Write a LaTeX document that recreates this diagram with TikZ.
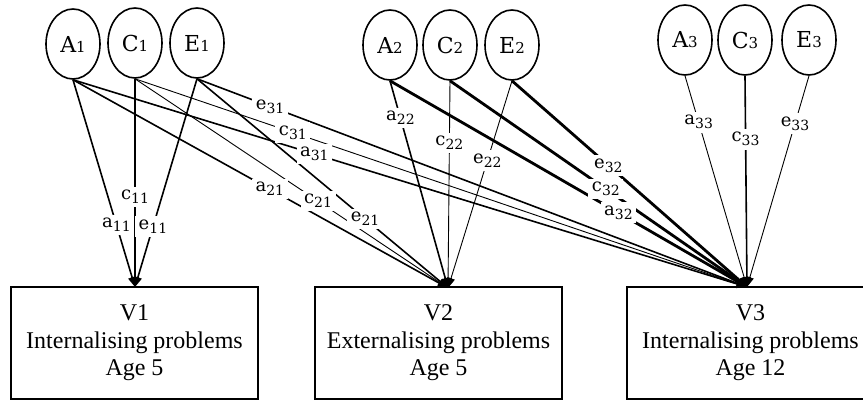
\documentclass[tikz,border=0pt]{standalone}
\usepackage{fontspec}
\setmainfont{Liberation Serif}
\newfontfamily\labfont{DejaVu Serif}
\usetikzlibrary{shapes.geometric,arrows.meta}

% factor name with its time index, and a path coefficient
\newcommand{\fac}[2]{#1{\fontsize{15}{15}\selectfont #2}}
\newcommand{\coef}[2]{#1\raisebox{-4pt}{\fontsize{14}{14}\selectfont #2}}

\tikzset{
  latent/.style={draw, ellipse, line width=1.6pt, minimum width=54pt, minimum height=70pt,
    inner sep=0pt, font=\labfont\fontsize{22}{22}\selectfont},
  measure/.style={draw, rectangle, line width=1.4pt, minimum width=247pt, minimum height=112pt,
    align=center, font=\fontsize{24}{27.5}\selectfont},
  lthin/.style={line width=0.9pt, -{Triangle[length=10pt,width=8pt]}},
  lnorm/.style={line width=1.6pt, -{Triangle[length=10pt,width=8pt]}},
  lthick/.style={line width=2.8pt, -{Triangle[length=10pt,width=8pt]}},
  coef/.style={fill=white, inner sep=3.5pt, font=\labfont\fontsize{18}{18}\selectfont}
}

\begin{document}
\begin{tikzpicture}[x=1pt,y=-1pt]
  \useasboundingbox (0,0) rectangle (863,401);

  % latent factors
  \node[latent] (A1) at (73,44)  {\fac{A}{1}};
  \node[latent] (C1) at (135,43) {\fac{C}{1}};
  \node[latent] (E1) at (197,43) {\fac{E}{1}};
  \node[latent] (A2) at (390,45) {\fac{A}{2}};
  \node[latent] (C2) at (450,45) {\fac{C}{2}};
  \node[latent] (E2) at (512,45) {\fac{E}{2}};
  \node[latent] (A3) at (685,40) {\fac{A}{3}};
  \node[latent] (C3) at (745,40) {\fac{C}{3}};
  \node[latent] (E3) at (809,40) {\fac{E}{3}};

  % measured variables
  \node[measure] (V1) at (134.5,343) {V1\\Internalising problems\\Age 5};
  \node[measure] (V2) at (438.5,343) {V2\\Externalising problems\\Age 5};
  \node[measure] (V3) at (750.5,343) {V3\\Internalising problems\\Age 12};
  \coordinate (in1) at (135,287);
  \coordinate (in2) at (448,288);
  \coordinate (in3) at (747,287);

  % paths
  \draw[lnorm]  (A1.south) -- (in1);
  \draw[lnorm]  (C1.south) -- (in1);
  \draw[lnorm]  (E1.south) -- (in1);
  \draw[lnorm]  (A1.south) -- (in2);
  \draw[lthin]  (C1.south) -- (in2);
  \draw[lnorm]  (E1.south) -- (in2);
  \draw[lnorm]  (A1.south) -- (in3);
  \draw[lthin]  (C1.south) -- (in3);
  \draw[lnorm]  (E1.south) -- (in3);
  \draw[lnorm]  (A2.south) -- (in2);
  \draw[lthin]  (C2.south) -- (in2);
  \draw[lthin]  (E2.south) -- (in2);
  \draw[lthick] (A2.south) -- (in3);
  \draw[lthick] (C2.south) -- (in3);
  \draw[lthick] (E2.south) -- (in3);
  \draw[lthin]  (A3.south) -- (in3);
  \draw[lnorm]  (C3.south) -- (in3);
  \draw[lthin]  (E3.south) -- (in3);

  % coefficients
  \path (A1.south) -- node[coef,pos=0.70]  {\coef{a}{11}} (in1);
  \path (C1.south) -- node[coef,pos=0.567] {\coef{c}{11}} (in1);
  \path (E1.south) -- node[coef,pos=0.71]  {\coef{e}{11}} (in1);
  \path (A1.south) -- node[coef,pos=0.525] {\coef{a}{21}} (in2);
  \path (C1.south) -- node[coef,pos=0.585] {\coef{c}{21}} (in2);
  \path (E1.south) -- node[coef,pos=0.67]  {\coef{e}{21}} (in2);
  \path (A1.south) -- node[coef,pos=0.358] {\coef{a}{31}} (in3);
  \path (C1.south) -- node[coef,pos=0.258] {\coef{c}{31}} (in3);
  \path (E1.south) -- node[coef,pos=0.133] {\coef{e}{31}} (in3);
  \path (A2.south) -- node[coef,pos=0.18]  {\coef{a}{22}} (in2);
  \path (C2.south) -- node[coef,pos=0.30]  {\coef{c}{22}} (in2);
  \path (E2.south) -- node[coef,pos=0.385] {\coef{e}{22}} (in2);
  \path (A2.south) -- node[coef,pos=0.64]  {\coef{a}{32}} (in3);
  \path (C2.south) -- node[coef,pos=0.525] {\coef{c}{32}} (in3);
  \path (E2.south) -- node[coef,pos=0.41]  {\coef{e}{32}} (in3);
  \path (A3.south) -- node[coef,pos=0.22]  {\coef{a}{33}} (in3);
  \path (C3.south) -- node[coef,pos=0.30]  {\coef{c}{33}} (in3);
  \path (E3.south) -- node[coef,pos=0.226] {\coef{e}{33}} (in3);
\end{tikzpicture}
\end{document}
